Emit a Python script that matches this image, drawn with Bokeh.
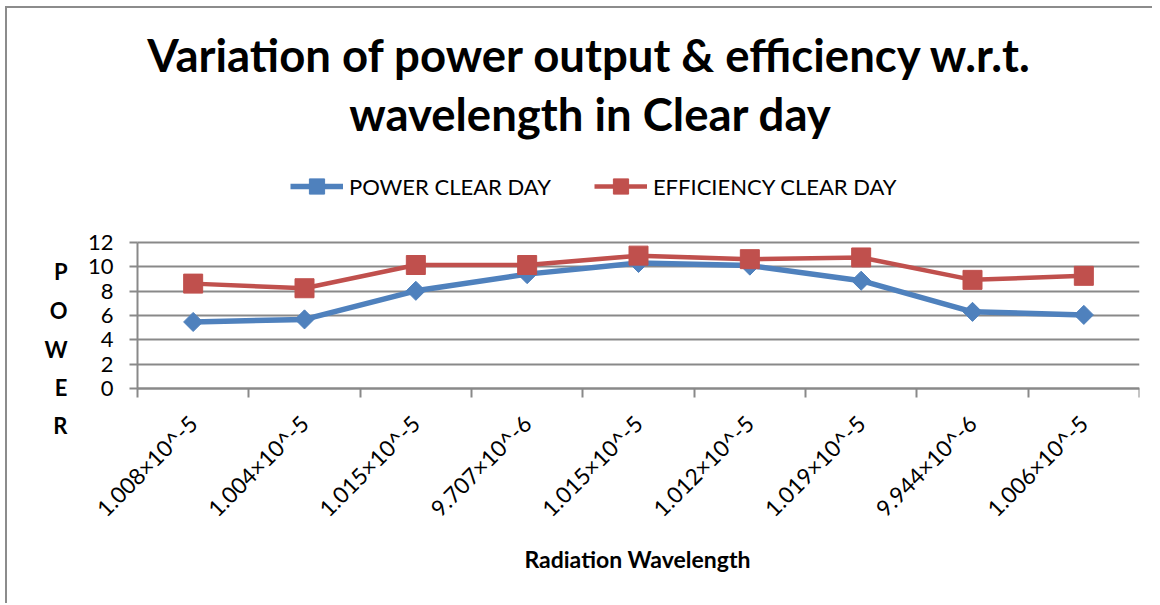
from math import pi
from bokeh.plotting import figure
from bokeh.models import FixedTicker, Legend, LegendItem, Label, LinearAxis, Range1d, BoxAnnotation
from bokeh.embed import file_html
from bokeh.resources import INLINE

# ---- data ----
categories = ["1.008×10^-5", "1.004×10^-5", "1.015×10^-5", "9.707×10^-6", "1.015×10^-5",
              "1.012×10^-5", "1.019×10^-5", "9.944×10^-6", "1.006×10^-5"]
power = [5.47, 5.68, 8.03, 9.4, 10.32, 10.1, 8.86, 6.3, 6.05]
efficiency = [8.62, 8.24, 10.15, 10.15, 10.92, 10.63, 10.77, 8.93, 9.26]
y_ticks = [0, 2, 4, 6, 8, 10, 12]
title_lines = ["Variation of power output & efficiency w.r.t.", "wavelength in Clear day"]
y_title = "POWER"
x_title = "Radiation Wavelength"
series_names = ["POWER CLEAR DAY", "EFFICIENCY CLEAR DAY"]

BLUE = "#4F81BD"
RED = "#C0504D"
GRAY = "#898989"
FONT = "Lato"

# ---- layout constants (page pixels) ----
OX, OY = 7, 8                      # canvas origin on the page (margin + border)
X0_PAGE, XN_PAGE = 137, 1139       # columns of the category area edges
F_LEFT, F_RIGHT = 78, 1139         # frame horizontal extent (room for tick labels)
F_TOP, F_BOTTOM = 8, 603           # frame spans the whole canvas height
GRID_TOP, GRID_BOTTOM = 242, 388   # rows of y=12 and y=0
n = len(categories)
px_x = (XN_PAGE - X0_PAGE) / n
px_y = (GRID_BOTTOM - GRID_TOP) / (y_ticks[-1] - y_ticks[0])
x_lo = -(X0_PAGE - F_LEFT) / px_x
y_lo = y_ticks[0] - (F_BOTTOM - GRID_BOTTOM) / px_y
y_hi = y_ticks[-1] + (GRID_TOP - F_TOP) / px_y


def dx(px):
    return (px - X0_PAGE) / px_x


def dy(py):
    return y_ticks[0] + (GRID_BOTTOM - py) / px_y


xs = [i + 0.5 for i in range(n)]
bounds = list(range(n + 1))

p = figure(frame_width=F_RIGHT - F_LEFT, frame_height=F_BOTTOM - F_TOP,
           x_range=(x_lo, n), y_range=(y_lo, y_hi),
           output_backend="svg", toolbar_location=None, title=None,
           min_border_left=F_LEFT - OX, min_border_right=13, min_border_top=0, min_border_bottom=0,
           background_fill_color="white", border_fill_color="white", outline_line_color=None)
p.margin = (6, 0, 0, 5)
p.styles = {"border-top": "2px solid #8c8c8c", "border-left": "2px solid #8c8c8c"}

# x axis, crossing at y = 0
xa = p.xaxis[0]
xa.fixed_location = 0
xa.bounds = (0, n)
xa.ticker = FixedTicker(ticks=xs, minor_ticks=bounds)
xa.major_label_overrides = {x: c for x, c in zip(xs, categories)}
xa.major_tick_line_color = None
xa.major_tick_out = 0
xa.major_tick_in = 0
xa.minor_tick_out = 9
xa.minor_tick_in = 0
xa.minor_tick_line_color = GRAY
xa.minor_tick_line_width = 2
xa.axis_line_color = GRAY
xa.axis_line_width = 2
xa.major_label_orientation = pi / 4
xa.major_label_standoff = 22
xa.major_label_text_font = FONT
xa.major_label_text_font_size = "22.5px"
xa.major_label_text_color = "black"

# y axis, crossing at x = 0, limited to 0..12
ya = p.yaxis[0]
ya.fixed_location = 0
ya.bounds = (y_ticks[0], y_ticks[-1])
ya.ticker = FixedTicker(ticks=y_ticks, minor_ticks=[])
ya.major_tick_out = 8
ya.major_tick_in = 0
ya.major_tick_line_color = GRAY
ya.major_tick_line_width = 2
ya.axis_line_color = GRAY
ya.axis_line_width = 2
ya.major_label_standoff = 16
ya.major_label_text_font = FONT
ya.major_label_text_font_size = "22px"
ya.major_label_text_color = "black"

# vertical y title: one letter per tick of an extra (pixel) range
p.extra_y_ranges = {"letters": Range1d(0, F_BOTTOM - F_TOP)}
letter_rows = [271, 310, 349, 387, 425]  # page rows of the letters
letter_pos = [float(F_BOTTOM - r) for r in letter_rows]
la = LinearAxis(y_range_name="letters", ticker=FixedTicker(ticks=letter_pos, minor_ticks=[]),
                major_label_overrides={v: ch for v, ch in zip(letter_pos, y_title)},
                axis_line_color=None, major_tick_line_color=None, minor_tick_line_color=None,
                major_tick_out=0, major_tick_in=0, major_label_standoff=11,
                major_label_text_font=FONT, major_label_text_font_style="bold",
                major_label_text_font_size="22px", major_label_text_color="black")
p.add_layout(la, "left")

p.xgrid.visible = False
g = p.ygrid[0]
g.ticker = FixedTicker(ticks=y_ticks)
g.grid_line_color = GRAY
g.grid_line_width = 2
try:
    g.cross_bounds = (0, n)
except AttributeError:
    # cover the grid left of the category area
    p.add_layout(BoxAnnotation(right=0, fill_color="white", fill_alpha=1, line_color=None,
                               level="underlay"))

# series
l1 = p.line(xs, power, line_color=BLUE, line_width=5.5)
s1 = p.scatter(xs, power, marker="square", angle=pi / 4, size=13.5, fill_color=BLUE, line_color=BLUE)
l2 = p.line(xs, efficiency, line_color=RED, line_width=4.5)
s2 = p.scatter(xs, efficiency, marker="square", size=19, fill_color=RED, line_color=RED)

# series legend above the grid
legend = Legend(items=[LegendItem(label=series_names[0], renderers=[l1, s1]),
                       LegendItem(label=series_names[1], renderers=[l2, s2])],
                orientation="horizontal", location=(290 - F_LEFT, F_BOTTOM - 205), margin=0, padding=0,
                spacing=43, glyph_width=53, glyph_height=38, label_standoff=6,
                label_text_font=FONT, label_text_font_size="22px", label_text_color="black",
                border_line_color=None, background_fill_alpha=0)
p.add_layout(legend)

# title lines (rows are the visual baselines, corrected for the font's offset)
TITLE_FS = 45.5
for text, row in zip(title_lines, [73, 132]):
    p.add_layout(Label(x=dx(590), y=dy(row - 0.41 * TITLE_FS), text=text, text_align="center",
                       text_baseline="alphabetic", text_font=FONT, text_font_style="bold",
                       text_font_size=f"{TITLE_FS}px", text_color="black"))

# x axis title
XT_FS = 23
p.add_layout(Label(x=dx(637), y=dy(568 - 0.41 * XT_FS), text=x_title, text_align="center",
                   text_baseline="alphabetic", text_font=FONT, text_font_style="bold",
                   text_font_size=f"{XT_FS}px", text_color="black"))

open("out.html", "w").write(file_html(p, INLINE))
